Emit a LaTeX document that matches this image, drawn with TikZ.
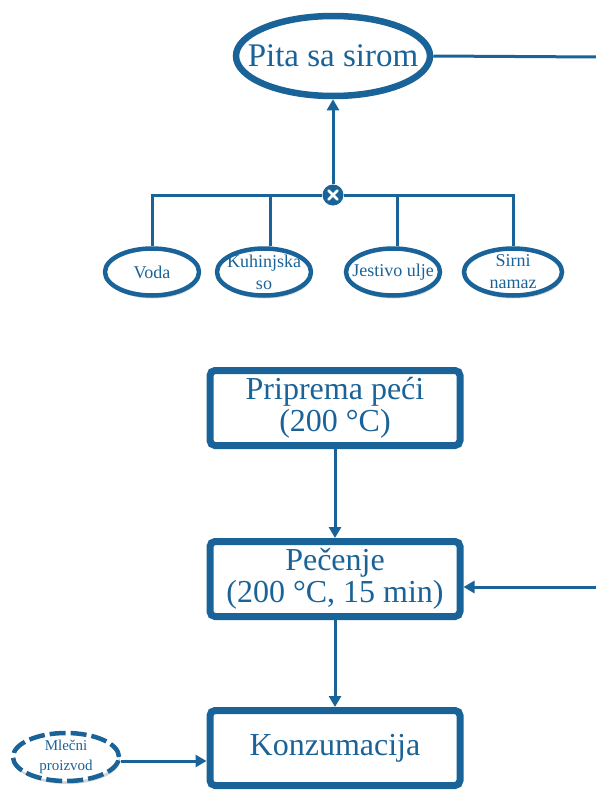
\documentclass[tikz,border=0pt]{standalone}
\usepackage{fontspec}
\setmainfont{Liberation Serif}
\usetikzlibrary{arrows.meta,shapes.geometric,shadows}
\definecolor{flowblue}{HTML}{1A6398}
\tikzset{
  soft/.style={drop shadow={shadow xshift=1pt,shadow yshift=-3pt,opacity=0.3,fill=black!55}},
  product/.style={ellipse,draw=flowblue,line width=6.5pt,fill=white,text=flowblue,
    minimum width=194pt,minimum height=80pt,inner xsep=-17pt,inner ysep=0pt,
    font=\fontsize{33}{33}\selectfont,soft},
  ingr/.style={ellipse,draw=flowblue,line width=4.5pt,fill=white,text=flowblue,
    minimum width=94pt,minimum height=47pt,inner xsep=-11pt,inner ysep=-7pt,align=center,
    font=\fontsize{18}{22}\selectfont,soft},
  extra/.style={ingr,dashed,dash pattern=on 16pt off 5pt,minimum width=106pt,minimum height=48pt,
    font=\fontsize{15}{20}\selectfont},
  stepbox/.style={rectangle,rounded corners=5pt,draw=flowblue,line width=7pt,fill=white,
    text=flowblue,minimum width=250pt,minimum height=75pt,inner sep=0pt,align=center,
    font=\fontsize{32}{32}\selectfont,soft},
  link/.style={draw=flowblue,line width=3pt},
  flow/.style={link,-{Triangle[length=11pt,width=12pt]}},
}
\begin{document}
\begin{tikzpicture}[x=1pt,y=-1pt]
\useasboundingbox (0,0) rectangle (595,790);

% final product
\node[product] (pita) at (333,56) {Pita sa sirom};
\coordinate (outR) at (597,57);
\draw[link] (pita.east) -- (outR);

% mixing junction
\node[circle,fill=flowblue,minimum size=21pt,inner sep=0pt] (mix) at (333,195) {};
\draw[white,line width=2.6pt,line cap=round]
  ([shift={(-4.5pt,-4.5pt)}]mix.center) -- ([shift={(4.5pt,4.5pt)}]mix.center)
  ([shift={(-4.5pt,4.5pt)}]mix.center) -- ([shift={(4.5pt,-4.5pt)}]mix.center);
\draw[flow] (mix.north) -- (pita.south);

% ingredients
\node[ingr] (voda) at (152,272) {Voda};
\node[ingr] (so) at (264,272) {Kuhinjska\\so};
\node[ingr] (ulje) at (393,272) {Jestivo ulje};
\node[ingr,minimum width=98pt] (namaz) at (513,272) {Sirni\\namaz};

\draw[link] (mix.west) -| (voda.north);
\draw[link] (mix.west) -| ([xshift=6pt]so.north);
\draw[link] (mix.east) -| ([xshift=4pt]ulje.north);
\draw[link] (mix.east) -| (namaz.north);

% process steps
\node[stepbox] (pec) at (335,408) {Priprema peći\\(200 °C)};
\node[stepbox] (pecenje) at (335,579) {Pečenje\\(200 °C, 15 min)};
\node[stepbox] (konz) at (335,748) {Konzumacija};

\draw[flow] (pec.south) -- (pecenje.north);
\draw[flow] (pecenje.south) -- (konz.north);

\coordinate (inR) at (597,587);
\draw[flow] (inR) -- (pecenje.east |- inR);

\node[extra] (mleko) at (66,757) {Mlečni\\proizvod};
\draw[flow] (mleko.east |- 0,761) -- (konz.west |- 0,761);
\end{tikzpicture}
\end{document}
